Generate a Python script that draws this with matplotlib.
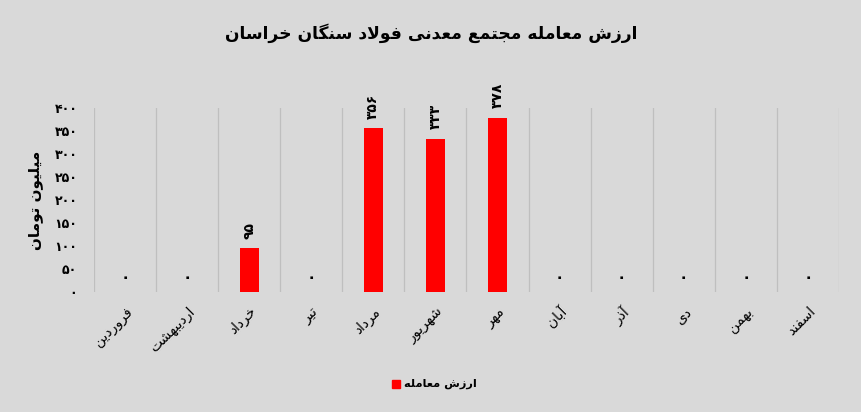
import matplotlib
matplotlib.use("Agg")
import matplotlib.pyplot as plt
from matplotlib.patches import Rectangle

months = ["فروردین", "اردیبهشت", "خرداد", "تیر", "مرداد", "شهریور",
          "مهر", "آبان", "آذر", "دی", "بهمن", "اسفند"]
values = [0, 0, 95, 0, 356, 333, 378, 0, 0, 0, 0, 0]
yticks = [0, 50, 100, 150, 200, 250, 300, 350, 400]
title = "ارزش معامله مجتمع معدنی فولاد سنگان خراسان"
ylabel = "میلیون تومان"
series_name = "ارزش معامله"

# --- minimal Persian shaping (presentation forms) ---
FORMS = {  # isolated, final, initial, medial
    'ا': ('\uFE8D', '\uFE8E', None, None),
    'آ': ('\uFE81', '\uFE82', None, None),
    'ب': ('\uFE8F', '\uFE90', '\uFE91', '\uFE92'),
    'ت': ('\uFE95', '\uFE96', '\uFE97', '\uFE98'),
    'ج': ('\uFE9D', '\uFE9E', '\uFE9F', '\uFEA0'),
    'خ': ('\uFEA5', '\uFEA6', '\uFEA7', '\uFEA8'),
    'د': ('\uFEA9', '\uFEAA', None, None),
    'ذ': ('\uFEAB', '\uFEAC', None, None),
    'ر': ('\uFEAD', '\uFEAE', None, None),
    'ز': ('\uFEAF', '\uFEB0', None, None),
    'س': ('\uFEB1', '\uFEB2', '\uFEB3', '\uFEB4'),
    'ش': ('\uFEB5', '\uFEB6', '\uFEB7', '\uFEB8'),
    'ع': ('\uFEC9', '\uFECA', '\uFECB', '\uFECC'),
    'ف': ('\uFED1', '\uFED2', '\uFED3', '\uFED4'),
    'ل': ('\uFEDD', '\uFEDE', '\uFEDF', '\uFEE0'),
    'م': ('\uFEE1', '\uFEE2', '\uFEE3', '\uFEE4'),
    'ن': ('\uFEE5', '\uFEE6', '\uFEE7', '\uFEE8'),
    'ه': ('\uFEE9', '\uFEEA', '\uFEEB', '\uFEEC'),
    'و': ('\uFEED', '\uFEEE', None, None),
    'ی': ('\uFBFC', '\uFBFD', '\uFBFE', '\uFBFF'),
    'گ': ('\uFB92', '\uFB93', '\uFB94', '\uFB95'),
    'LA': ('\uFEFB', '\uFEFC', None, None),
}


def shape(text):
    chars = []
    i = 0
    while i < len(text):
        c = text[i]
        if c == 'ل' and i + 1 < len(text) and text[i + 1] == 'ا':
            chars.append('LA')
            i += 2
            continue
        chars.append(c)
        i += 1
    out = []
    for k, c in enumerate(chars):
        if c not in FORMS:
            out.append(c)
            continue
        f = FORMS[c]
        prev = chars[k - 1] if k > 0 else None
        nxt = chars[k + 1] if k + 1 < len(chars) else None
        jp = prev in FORMS and FORMS[prev][2] is not None
        jn = f[2] is not None and nxt in FORMS
        if jp and jn:
            out.append(f[3])
        elif jp:
            out.append(f[1])
        elif jn:
            out.append(f[2])
        else:
            out.append(f[0])
    return ''.join(out)[::-1]


def fa_digits(n):
    return str(n).translate(str.maketrans("0123456789", "۰۱۲۳۴۵۶۷۸۹"))


FONT = "DejaVu Sans"
BG = "#D9D9D9"
RED = "#FF0000"

fig = plt.figure(figsize=(8.62, 4.12), dpi=100, facecolor=BG)
ax = fig.add_axes([94 / 862, 1 - 292 / 412, (839 - 94) / 862, (292 - 108) / 412])
ax.set_facecolor(BG)

x = list(range(len(months)))
ax.bar(x, values, width=0.31, color=RED, zorder=3)
ax.set_xlim(-0.5, len(months) - 0.5)
ax.set_ylim(0, 400)

for b in range(len(months) + 1):
    ax.axvline(b - 0.5, color="#BFBFBF", lw=0.9, zorder=1)

for s in ax.spines.values():
    s.set_visible(False)

ax.set_yticks(yticks)
ax.set_yticklabels([fa_digits(v) for v in yticks], fontname=FONT,
                   fontweight="bold", fontsize=9)
ax.tick_params(axis="y", length=0, pad=12)
ax.set_xticks(x)
ax.set_xticklabels([shape(m) for m in months], rotation=45, ha="right",
                   rotation_mode="anchor", fontname=FONT, fontsize=10)
ax.tick_params(axis="x", length=0, pad=9)

for xi, v in zip(x, values):
    if v == 0:
        ax.annotate(fa_digits(v), (xi, v), xytext=(0, 10.5), textcoords="offset points",
                    ha="center", va="center", fontname=FONT, fontweight="bold", fontsize=11)
    else:
        ax.annotate(fa_digits(v), (xi, v), xytext=(0, 7), textcoords="offset points",
                    ha="center", va="bottom", rotation=90, fontname=FONT,
                    fontweight="bold", fontsize=10)

ax.set_ylabel(shape(ylabel), fontname=FONT, fontweight="bold", fontsize=11, labelpad=8)

fig.text(431 / 862, 1 - 33 / 412, shape(title), ha="center", va="center",
         fontname=FONT, fontweight="bold", fontsize=12.3)

# legend
fig.patches.append(Rectangle((392 / 862, 1 - 388 / 412), 8 / 862, 8 / 412,
                             transform=fig.transFigure, color=RED, figure=fig))
fig.text(404 / 862, 1 - 384 / 412, shape(series_name), ha="left", va="center",
         fontname=FONT, fontweight="bold", fontsize=8.2)

fig.savefig("out.png", dpi=100, facecolor=BG)
